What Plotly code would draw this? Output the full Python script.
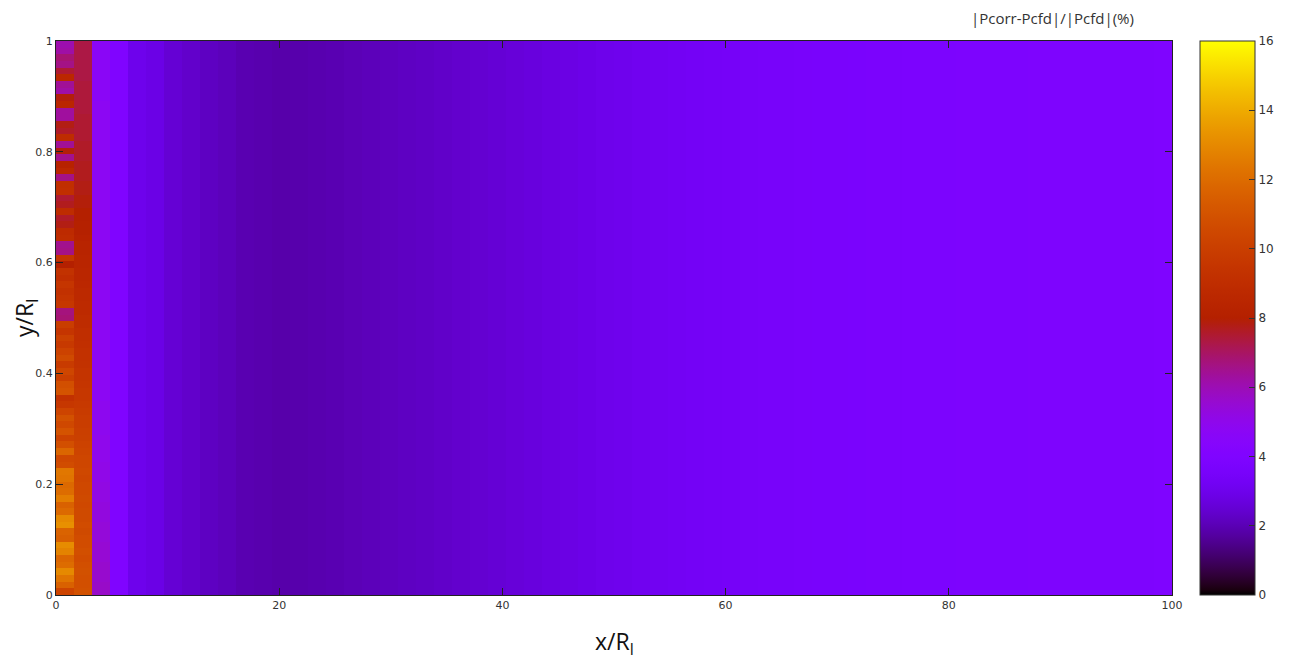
import math
import plotly.graph_objects as go

# ---- data ----
n_cols = 62
n_rows = 83

# first column (x 0-1.6), bottom -> top
col0 = [10.3, 11.6, 12.3, 13.0, 12.0, 11.8, 12.8, 13.1, 11.5, 11.7, 13.2, 13.0, 11.9, 11.6, 12.6, 12.0,
        11.9, 12.3, 12.4, 10.7, 10.5, 11.8,
        10.8, 10.2, 11.0, 10.5, 10.9, 10.3, 9.6, 9.2, 11.0, 10.8, 10.0, 10.4, 9.8, 10.6, 10.2, 9.7, 10.1, 9.5, 9.9,
        6.8, 6.7,
        9.6, 9.4, 9.2, 9.5, 9.0, 9.3, 8.0, 9.4, 6.6, 6.5, 8.9, 8.8, 7.8, 7.6, 8.9, 7.7, 7.5, 9.1, 9.0, 6.6,
        8.6, 8.2, 6.5, 7.9, 6.4, 8.9, 7.6, 7.8, 6.3, 6.3, 8.5, 7.9, 6.2, 6.4, 8.6, 7.5, 6.6, 6.8, 6.2, 6.1]

# second column (x 1.6-3.2), bottom -> top
col1 = [10.9, 10.8, 10.8, 10.9, 10.8, 10.7, 10.8, 10.7, 10.7, 10.6, 10.7, 10.6, 10.6, 10.5, 10.6, 10.5,
        10.5, 10.4, 10.5, 10.4, 10.4, 10.3,
        10.2, 10.1, 10.0, 9.9, 9.9, 9.8, 9.7, 9.6, 9.6, 9.5, 9.4, 9.4, 9.3, 9.2, 9.2, 9.1, 9.0, 9.0, 8.9,
        8.9, 8.8,
        8.8, 8.7, 8.7, 8.6, 8.5, 8.5, 8.4, 8.4, 8.3, 8.3, 8.2, 8.1, 8.1, 8.0, 8.0, 7.9, 7.9, 7.8, 7.8, 7.7,
        7.7, 7.7, 7.6, 7.6, 7.6, 7.5, 7.5, 7.5, 7.5, 7.4, 7.4, 7.4, 7.4, 7.4, 7.3, 7.3, 7.3, 7.3, 7.3, 7.3]

# third column (x 3.2-4.8), bottom -> top
col2 = [5.7, 5.7, 5.6, 5.6, 5.6, 5.5, 5.5, 5.5, 5.4, 5.4, 5.4, 5.3, 5.3, 5.3, 5.2, 5.2,
        5.2, 5.1, 5.1, 5.1, 5.0, 5.0,
        5.0, 5.0, 4.9, 4.9, 4.9, 4.9, 4.9, 4.8, 4.8, 4.8, 4.8, 4.8, 4.8, 4.8, 4.8, 4.8, 4.8, 4.8, 4.8,
        4.8, 4.8,
        4.8, 4.8, 4.8, 4.8, 4.8, 4.8, 4.8, 4.8, 4.8, 4.8, 4.8, 4.8, 4.8, 4.8, 4.8, 4.8, 4.8, 4.8, 4.8, 4.8,
        4.8, 4.8, 4.8, 4.8, 4.8, 4.8, 4.8, 4.8, 4.8, 4.8, 4.8, 4.7, 4.7, 4.7, 4.7, 4.7, 4.7, 4.7, 4.7, 4.7]

# remaining columns: value profile along x (uniform in y)
profile = [4.0, 3.0, 2.85, 2.5, 2.35, 2.2, 2.1, 1.95, 1.9, 1.85, 1.88, 1.92, 1.97, 2.02, 2.08, 2.14,
           2.2, 2.26, 2.32, 2.38, 2.45, 2.52, 2.6, 2.67, 2.75, 2.82, 2.9, 2.98, 3.05, 3.12, 3.18, 3.24,
           3.3, 3.35, 3.4, 3.45, 3.5, 3.54, 3.58, 3.62, 3.65, 3.68, 3.71, 3.74, 3.76, 3.78, 3.8, 3.82,
           3.84, 3.85, 3.86, 3.87, 3.88, 3.89, 3.9, 3.9, 3.91, 3.91, 3.92]

x_ticks = [0, 20, 40, 60, 80, 100]
y_ticks = [0, 0.2, 0.4, 0.6, 0.8, 1]
cb_ticks = [0, 2, 4, 6, 8, 10, 12, 14, 16]

# ---- grid ----
dx = 100.0 / n_cols
dy = 1.0 / n_rows
x = [(i + 0.5) * dx for i in range(n_cols)]
y = [(j + 0.5) * dy for j in range(n_rows)]
z = [[col0[j], col1[j], col2[j]] + profile for j in range(n_rows)]

# gnuplot default palette (rgbformulae 7,5,15)
def pal(t):
    r = math.sqrt(t)
    g = t ** 3
    b = max(0.0, math.sin(2 * math.pi * t))
    return "rgb(%d,%d,%d)" % (round(r * 255), round(g * 255), round(b * 255))

cscale = [[k / 100, pal(k / 100)] for k in range(101)]

fig = go.Figure(go.Heatmap(
    x=x, y=y, z=z, zmin=0, zmax=16, colorscale=cscale,
    colorbar=dict(
        x=1.0251, xanchor="left", xpad=0, ypad=0,
        y=0.5, yanchor="middle", len=1, lenmode="fraction",
        thickness=55, thicknessmode="pixels",
        outlinewidth=1, outlinecolor="#333",
        tickvals=cb_ticks, ticks="inside", ticklen=6, tickcolor="#333",
        tickfont=dict(family="DejaVu Sans", size=12, color="#333"),
    ),
    hoverinfo="skip",
))

axis_common = dict(
    showline=True, mirror="ticks", linecolor="#222", linewidth=1,
    ticks="inside", ticklen=7, tickcolor="#222", showgrid=False, zeroline=False,
    tickfont=dict(family="DejaVu Sans", size=11, color="#333"),
)
fig.update_xaxes(range=[0, 100], tickvals=x_ticks, **axis_common)
fig.update_yaxes(range=[0, 1], tickvals=y_ticks, ticktext=[str(v) for v in y_ticks], **axis_common)

fig.update_layout(
    width=1298, height=666,
    margin=dict(l=56, r=126, t=41, b=71),
    paper_bgcolor="white", plot_bgcolor="white",
    annotations=[
        dict(text="x/R<sub>l</sub>", xref="paper", yref="paper", x=0.5, y=-0.085,
             xanchor="center", yanchor="middle", showarrow=False,
             font=dict(family="Open Sans", size=23, color="#111")),
        dict(text="y/R<sub>l</sub>", xref="paper", yref="paper", x=-0.0278, y=0.5,
             xanchor="center", yanchor="middle", textangle=-90, showarrow=False,
             font=dict(family="Open Sans", size=23, color="#111")),
        dict(text="|Pcorr-Pcfd|/|Pcfd|(%)", xref="paper", yref="paper", x=0.968, y=1.02,
             xanchor="right", yanchor="bottom", showarrow=False,
             font=dict(family="Open Sans", size=15, color="#333")),
    ],
)

fig.write_html("out.html")
